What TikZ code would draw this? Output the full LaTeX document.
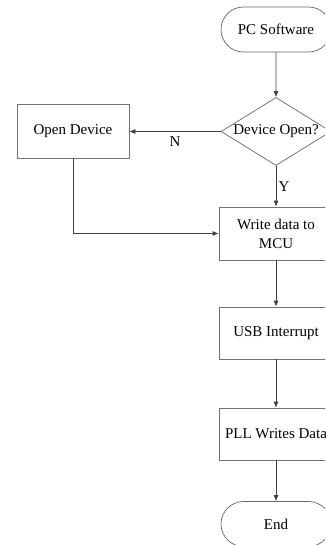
\documentclass[tikz,border=0pt]{standalone}
\usepackage{fontspec}
\setmainfont{Liberation Serif}
\usetikzlibrary{shapes.geometric,shapes.misc,arrows.meta}

\begin{document}
\begin{tikzpicture}[x=1pt,y=-1pt,line width=0.7pt,
        font=\fontsize{15}{19}\selectfont,
        box/.style={draw=black!55,rectangle,minimum width=114pt,minimum height=53pt,inner sep=0pt,align=center},
        term/.style={draw=black!60,rounded rectangle,minimum width=110pt,minimum height=45pt,inner sep=0pt},
        decide/.style={draw=black!60,diamond,aspect=1.6,minimum width=110pt,minimum height=68pt,inner sep=0pt},
        flow/.style={draw=black!75,-{Latex[length=6pt,width=5pt]}}]
    \useasboundingbox (0,0) rectangle (325,545);
    \clip (0,0) rectangle (325,545);
    \node[term] (pc) at (276,29.5) {PC Software};
    \node[decide] (isopen) at (276,131.5) {Device Open?};
    \node[box,minimum width=112pt,minimum height=54pt] (opendev) at (73,131.5) {Open Device};
    \node[box] (write) at (276,233.5) {Write data to\\MCU};
    \node[box,minimum height=52pt] (usb) at (276,333) {USB Interrupt};
    \node[box,minimum height=52pt] (pll) at (276,434) {PLL Writes Data};
    \node[term] (fin) at (276,524) {End};
    \foreach \a/\b in {pc/isopen,write/usb,usb/pll,pll/fin}{
        \draw[flow] (\a) -- (\b);
    }
    \draw[flow] (isopen) -- node[below=1pt] {N} (opendev);
    \draw[flow] (isopen) -- node[right=-1pt] {Y} (write);
    \draw[flow] (opendev) |- (write);
\end{tikzpicture}
\end{document}
